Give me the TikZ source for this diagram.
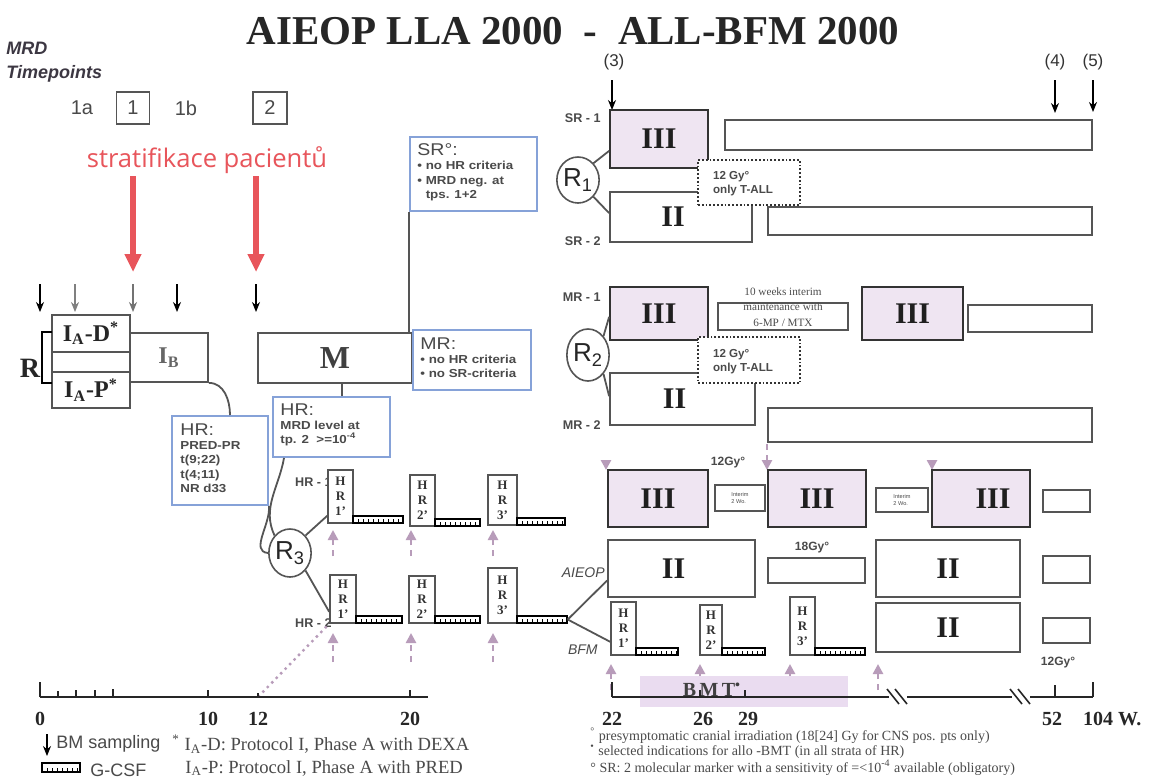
\documentclass[tikz,border=0pt]{standalone}
\usepackage{fontspec}
\setmainfont{Liberation Serif}
\setsansfont{Liberation Sans}
\newfontfamily\redfont{Open Sans}
\newfontfamily\widesans[FakeStretch=1.15]{Liberation Sans}
\usetikzlibrary{shapes.geometric,arrows.meta,fit}
\definecolor{txtg}{HTML}{4A4A4A}
\definecolor{lineg}{HTML}{555555}
\definecolor{darkg}{HTML}{333333}
\definecolor{lav}{HTML}{EFE5F2}
\definecolor{bmtc}{HTML}{EADCF0}
\definecolor{pinkc}{HTML}{B89CBA}
\definecolor{redc}{HTML}{E8555B}
\definecolor{blueb}{HTML}{86A2D8}
\definecolor{mrdc}{HTML}{3C3742}
\newcommand\fsz[2]{\fontsize{#1}{#2}\selectfont}
\newcommand\bhead{\widesans\mdseries\fsz{8.5}{9}}
\newcommand\rectnode[6]{\node[#1,fit={(#3,#4)(#5,#6)},inner sep=0pt] (#2) {};}
\begin{document}
\begin{tikzpicture}[x=0.5pt,y=-0.5pt,
  box/.style={draw=lineg,line width=0.9pt,fill=white},
  fbox/.style={draw=darkg,line width=0.9pt,fill=lav},
  bbox/.style={draw=blueb,line width=1pt,fill=white},
  dbox/.style={draw=darkg,line width=0.9pt,densely dotted,fill=white},
  hrblk/.style={draw=lineg,line width=0.8pt,fill=white},
  gcsf/.style={draw=black,line width=0.7pt,fill=white,
    path picture={\draw[black,line width=1.4pt,dash pattern=on 0.7pt off 1.8pt]
      ([yshift=1.2pt]path picture bounding box.south west) -- ([yshift=1.2pt]path picture bounding box.south east);}},
  conn/.style={draw=lineg,line width=0.9pt},
  tl/.style={draw=black!85,line width=0.8pt},
  bmarr/.style={-{Stealth[length=5pt,width=4pt]},line width=0.7pt},
  redarr/.style={draw=redc,line width=2.6pt,-{Triangle[length=9pt,width=8pt]}},
  pkarr/.style={draw=pinkc,line width=1.3pt,dash pattern=on 3pt off 2.5pt,-{Triangle[length=5pt,width=5pt]}},
  rlab/.style={font=\sffamily\bfseries\fsz{6.3}{7},text=txtg,inner sep=1pt},
  ilab/.style={font=\sffamily\itshape\fsz{7}{8},text=txtg,inner sep=1pt},
  bigR/.style={ellipse,draw=lineg,line width=0.8pt,inner sep=0pt,font=\sffamily\fsz{13}{14},text=black!85},
  rom/.style={font=\bfseries\fsz{15}{16},text=black!88},
  bt/.style={font=\widesans\bfseries\fsz{5.8}{7.2},text=txtg,align=left,anchor=north west,inner sep=0pt},
  hrt/.style={font=\bfseries\fsz{6.5}{7.6},align=center,inner sep=0pt,text=black!80},
  tnum/.style={font=\bfseries\fsz{10}{11},text=black!85},
  tp/.style={font=\sffamily\fsz{10}{11},text=txtg},
  dtxt/.style={font=\sffamily\bfseries\fsz{5.8}{7},text=txtg,align=left},
  tiny/.style={font=\sffamily\fsz{2.8}{3.4},text=txtg,align=left},
  fnote/.style={font=\fsz{9.3}{10},text=txtg,anchor=west,inner sep=0pt},
  fnoter/.style={font=\fsz{7}{7.5},text=txtg,anchor=west,inner sep=0pt}
]
\useasboundingbox (0,0) rectangle (1150,777);
\fill[white] (0,0) rectangle (1150,777);

% ---------------- title and MRD timepoints
\node[font=\bfseries\fsz{20.5}{24},text=black!85] (title) at (573,31) {AIEOP LLA 2000 \ - \ ALL-BFM 2000};
\node[anchor=west,font=\sffamily\bfseries\itshape\fsz{9}{12},text=mrdc,align=left,inner sep=0pt] (mrd) at (6,62) {MRD\\Timepoints};
\node[tp] (t1a) at (82,108) {1a};
\node[tp,draw=lineg,line width=0.7pt,minimum width=16.5pt,minimum height=16pt] (t1) at (133,108) {1};
\node[tp] (t1b) at (186,108) {1b};
\node[tp,draw=lineg,line width=0.7pt,minimum width=17pt,minimum height=16pt] (t2) at (270,108) {2};
\node[font=\redfont\fsz{12.8}{13},text=redc] (strat) at (207,160) {stratifikace pacientů};
\coordinate (ra1s) at (133,176); \coordinate (ra1e) at (133,272);
\coordinate (ra2s) at (256,176); \coordinate (ra2e) at (256,272);
\draw[redarr] (ra1s) -- (ra1e);
\draw[redarr] (ra2s) -- (ra2e);

% BM sampling arrows
\draw[bmarr,black] (40,284) -- (40,312);
\draw[bmarr,black!50] (75,284) -- (75,312);
\draw[bmarr,black!55] (133,284) -- (133,312);
\draw[bmarr,black] (177,284) -- (177,312);
\draw[bmarr,black] (256,284) -- (256,312);

% ---------------- induction
\rectnode{box}{iad}{52}{315}{130}{352}
\rectnode{box}{mid}{52}{352}{130}{372}
\rectnode{box}{iap}{52}{372}{130}{408}
\rectnode{box}{ib}{130}{333}{208}{382}
\node[font=\bfseries\fsz{12}{13},text=black!85] (tiad) at (iad) {I\textsubscript{A}-D\textsuperscript{*}};
\node[font=\bfseries\fsz{12}{13},text=black!85] (tiap) at (iap) {I\textsubscript{A}-P\textsuperscript{*}};
\node[font=\bfseries\fsz{12}{13},text=black!60] (tib) at (ib) {I\textsubscript{B}};
\coordinate (brt) at (52,332); \coordinate (brb) at (52,383);
\draw[conn,black] (brt) -- ++(-10,0) |- (brb);
\node[font=\bfseries\fsz{14}{15},text=black!85] (rand) at (30,368) {R};

% ---------------- M, SR, MR, HR boxes
\rectnode{box}{mbox}{258}{333}{412}{383}
\node[font=\bfseries\fsz{16}{17},text=black!75] (tm) at (mbox) {M};
\rectnode{bbox}{sr}{410}{137}{537}{211}
\node[bt] (tsr) at (417,143) {{\bhead SR°:}\\• no HR criteria\\• MRD neg. at\\\hphantom{• }tps. 1+2};
\rectnode{bbox}{mr}{413}{330}{531}{390}
\node[bt] (tmr) at (420,337) {{\bhead MR:}\\• no HR criteria\\• no SR-criteria};
\rectnode{bbox}{hra}{172}{416}{268}{505}
\node[bt] (thra) at (180,423) {{\bhead HR:}\\PRED-PR\\t(9;22)\\t(4;11)\\NR d33};
\rectnode{bbox}{hrb}{273}{397}{390}{457}
\node[bt] (thrb) at (280,403) {{\bhead HR:}\\MRD level at\\tp. 2 \ >=10\textsuperscript{-4}};
\draw[conn] (sr.south west) -- (sr.south west |- mbox.north);
\coordinate (mhx) at (342,390);
\draw[conn] (mhx |- mbox.south) -- (mhx |- hrb.north);
\draw[conn] (ib.south east) to[out=0,in=90] ([xshift=5pt]hra.north);

% ---------------- R3 and HR blocks
\node[bigR,minimum width=20pt,minimum height=24pt] (r3) at (290,553) {R\textsubscript{3}};
\draw[conn] ([xshift=6pt]hrb.south west) to[out=-100,in=115] (r3.north west);
\draw[conn] (hra.south east) to[out=-85,in=175] (r3.west);

\node[rlab,anchor=east] (lhr1) at (334,482) {HR - 1};
\node[rlab,anchor=east] (lhr2) at (334,623) {HR - 2};

\rectnode{hrblk}{hA1}{328}{470}{353}{523}
\rectnode{gcsf}{gA1}{353}{516}{403}{523}
\rectnode{hrblk}{hA2}{410}{475}{435}{526}
\rectnode{gcsf}{gA2}{435}{519}{480}{526}
\rectnode{hrblk}{hA3}{488}{475}{517}{525}
\rectnode{gcsf}{gA3}{517}{518}{565}{525}
\rectnode{hrblk}{hB1}{330}{575}{356}{623}
\rectnode{gcsf}{gB1}{356}{616}{402}{623}
\rectnode{hrblk}{hB2}{409}{576}{435}{623}
\rectnode{gcsf}{gB2}{435}{616}{480}{623}
\rectnode{hrblk}{hB3}{488}{568}{517}{623}
\rectnode{gcsf}{gB3}{517}{616}{567}{623}
\rectnode{hrblk}{hC1}{611}{602}{636}{655}
\rectnode{gcsf}{gC1}{636}{648}{678}{655}
\rectnode{hrblk}{hC2}{700}{605}{722}{655}
\rectnode{gcsf}{gC2}{722}{648}{765}{655}
\rectnode{hrblk}{hC3}{790}{597}{815}{655}
\rectnode{gcsf}{gC3}{815}{648}{865}{655}
\node[hrt] (thA1) at (hA1) {H\\R\\1'};
\node[hrt] (thA2) at (hA2) {H\\R\\2'};
\node[hrt] (thA3) at (hA3) {H\\R\\3'};
\node[hrt] (thB1) at (hB1) {H\\R\\1'};
\node[hrt] (thB2) at (hB2) {H\\R\\2'};
\node[hrt] (thB3) at (hB3) {H\\R\\3'};
\node[hrt] (thC1) at (hC1) {H\\R\\1'};
\node[hrt] (thC2) at (hC2) {H\\R\\2'};
\node[hrt] (thC3) at (hC3) {H\\R\\3'};
\draw[conn] (r3.north east) -- ([yshift=4pt]hA1.south west);
\draw[conn] (r3.south east) -- ([yshift=6pt]hB1.south west);

% pink up arrows
\foreach \x in {333,411,493} {\draw[pkarr] (\x,556) -- (\x,530); \draw[pkarr] (\x,662) -- (\x,633);}
\foreach \x in {611,700,790,878} {\draw[pkarr] (\x,690) -- (\x,664);}
\draw[pkarr] (767,444) -- (767,470);
\draw[pkarr] (606,460) -- (606,470);
\draw[pkarr] (932,460) -- (932,470);
\draw[draw=pinkc,line width=1.2pt,dotted] (258,697) -- (hB1.south west);

% ---------------- right: SR
\node[font=\sffamily\fsz{8.5}{9},text=black!80] (p3) at (614,62) {(3)};
\node[font=\sffamily\fsz{8.5}{9},text=black!80] (p4) at (1055,62) {(4)};
\node[font=\sffamily\fsz{8.5}{9},text=black!80] (p5) at (1093,62) {(5)};
\draw[bmarr] (612,80) -- (612,110);
\draw[bmarr] (1055,80) -- (1055,113);
\draw[bmarr] (1093,80) -- (1093,112);

\node[rlab,anchor=east] (lsr1) at (603,118) {SR - 1};
\rectnode{fbox}{iiiS}{610}{110}{708}{168}
\node[rom] (tiiiS) at (iiiS) {III};
\rectnode{box}{barS1}{725}{120}{1092}{150}
\rectnode{box}{iiS}{610}{192}{752}{242}
\node[rom] (tiiS) at ([xshift=-4pt]iiS.center) {II};
\rectnode{dbox}{dotS}{698}{160}{800}{205}
\node[dtxt,anchor=north west] (tdotS) at (706,164) {12 Gy°\\only T-ALL};
\rectnode{box}{barS2}{768}{207}{1092}{235}
\node[rlab,anchor=east] (lsr2) at (603,241) {SR - 2};
\node[bigR,minimum width=18pt,minimum height=23pt] (r1) at (578,180) {R\textsubscript{1}};
\draw[conn] (r1.north east) -- ([yshift=9pt]iiiS.south west);
\draw[conn] (r1.south east) -- ([yshift=-11pt]iiS.north west);

% ---------------- right: MR
\node[rlab,anchor=east] (lmr1) at (603,297) {MR - 1};
\rectnode{fbox}{iiiM1}{610}{287}{708}{340}
\node[rom] (tiiiM1) at (iiiM1) {III};
\rectnode{box}{intM}{718}{303}{848}{330}
\node[font=\fsz{5.6}{7.6},text=black!70,align=center] (tintM) at (783,307) {10 weeks interim\\maintenance with\\6-MP / MTX};
\rectnode{fbox}{iiiM2}{862}{287}{963}{340}
\node[rom] (tiiiM2) at (iiiM2) {III};
\rectnode{box}{barM1}{968}{305}{1092}{332}
\rectnode{box}{iiM}{610}{373}{755}{425}
\node[rom] (tiiM) at ([xshift=-4pt]iiM.center) {II};
\rectnode{dbox}{dotM}{698}{337}{800}{383}
\node[dtxt,anchor=north west] (tdotM) at (706,342) {12 Gy°\\only T-ALL};
\rectnode{box}{barM2}{768}{408}{1092}{442}
\node[rlab,anchor=east] (lmr2) at (603,425) {MR - 2};
\node[bigR,minimum width=18pt,minimum height=26pt] (r2) at (588,355) {R\textsubscript{2}};
\draw[conn] (r2.north east) -- ([yshift=12pt]iiiM1.south west);
\draw[conn] (r2.south east) -- ([yshift=-12pt]iiM.north west);

% ---------------- right: HR
\rectnode{fbox}{iiiH1}{608}{470}{708}{527}
\node[rom] (tiiiH1) at (iiiH1) {III};
\node[font=\sffamily\bfseries\fsz{6}{7},text=txtg] (gy1) at (728,463) {12Gy°};
\rectnode{box}{sH1}{715}{485}{765}{511}
\node[tiny] (tsH1) at (sH1) {Interim\\2 Wo.};
\rectnode{fbox}{iiiH2}{768}{470}{866}{527}
\node[rom] (tiiiH2) at (iiiH2) {III};
\rectnode{box}{sH2}{876}{488}{928}{512}
\node[tiny] (tsH2) at (sH2) {Interim\\2 Wo.};
\rectnode{fbox}{iiiH3}{932}{470}{1030}{527}
\node[rom] (tiiiH3) at ([xshift=6pt]iiiH3.center) {III};
\rectnode{box}{sH3}{1043}{490}{1090}{512}

\node[ilab,anchor=east] (laieop) at (607,573) {AIEOP};
\rectnode{box}{iiA1}{608}{540}{755}{597}
\node[rom] (tiiA1) at ([xshift=-4pt]iiA1.center) {II};
\node[font=\sffamily\bfseries\fsz{6}{7},text=txtg] (gy2) at (812,548) {18Gy°};
\rectnode{box}{bA}{768}{558}{865}{583}
\rectnode{box}{iiA2}{876}{540}{1020}{597}
\node[rom] (tiiA2) at (iiA2) {II};
\rectnode{box}{sA}{1043}{556}{1090}{583}

\node[ilab,anchor=east] (lbfm) at (600,650) {BFM};
\rectnode{box}{iiB}{876}{603}{1020}{652}
\node[rom] (tiiB) at (iiB) {II};
\rectnode{box}{sB}{1043}{618}{1090}{643}
\node[font=\sffamily\bfseries\fsz{6}{7},text=txtg] (gy3) at (1058,663) {12Gy°};
\draw[conn] (gB3.east) -- ([yshift=-6pt]iiA1.west);
\draw[conn] (gB3.east) -- ([yshift=7pt]hC1.south west);

% ---------------- BMT
\fill[bmtc] (640,676) rectangle (848,707);
\node[font=\bfseries\fsz{10}{11},text=black!75] (bmt) at (712,690) {B\,M\,T\textsuperscript{•}};

% ---------------- timelines
\draw[tl] (40,697) -- (428,697);
\foreach \x/\h in {40/15,58/6,76/7,95/7,113/8,208/7,258/4,410/7} \draw[tl] (\x,697) -- (\x,697-\h);
\node[tnum] (n0) at (40,719) {0};
\node[tnum] (n10) at (208,719) {10};
\node[tnum] (n12) at (258,719) {12};
\node[tnum] (n20) at (410,719) {20};

\draw[tl] (612,697) -- (889,697);
\draw[tl] (907,697) -- (1012,697);
\draw[tl] (1030,697) -- (1093,697);
\draw[tl] (887,689) -- (899,704); \draw[tl] (895,689) -- (907,704);
\draw[tl] (1010,689) -- (1022,704); \draw[tl] (1018,689) -- (1030,704);
\foreach \x/\h in {612/15,700/7,745/7,1055/12,1093/15} \draw[tl] (\x,697) -- (\x,697-\h);
\node[tnum] (n22) at (612,719) {22};
\node[tnum] (n26) at (703,719) {26};
\node[tnum] (n29) at (748,719) {29};
\node[tnum] (n52) at (1052,719) {52};
\node[tnum,anchor=west] (n104) at (1076,719) {104 W.};

% ---------------- legend
\draw[bmarr,black] (47,734) -- (47,756);
\node[font=\sffamily\fsz{9}{9},text=txtg,anchor=west,inner sep=0pt] (lbm) at (56,744) {BM sampling};
\rectnode{gcsf}{lg}{42}{763}{80}{772}
\node[font=\sffamily\fsz{9}{9},text=txtg,anchor=west,inner sep=0pt] (lgc) at (90,770) {G-CSF};
\node[fnote] (f1) at (172,744) {\textsuperscript{*} I\textsubscript{A}-D: Protocol I, Phase A with DEXA};
\node[fnote] (f2) at (185,768) {I\textsubscript{A}-P: Protocol I, Phase A with PRED};
\node[fnoter] (f3) at (590,736) {\textsuperscript{°} presymptomatic cranial irradiation (18[24] Gy for CNS pos. pts only)};
\node[fnoter] (f4) at (590,752) {\textsuperscript{•} selected indications for allo -BMT (in all strata of HR)};
\node[fnoter] (f5) at (590,768) {° SR: 2 molecular marker with a sensitivity of =<10\textsuperscript{-4} available (obligatory)};
\end{tikzpicture}
\end{document}
